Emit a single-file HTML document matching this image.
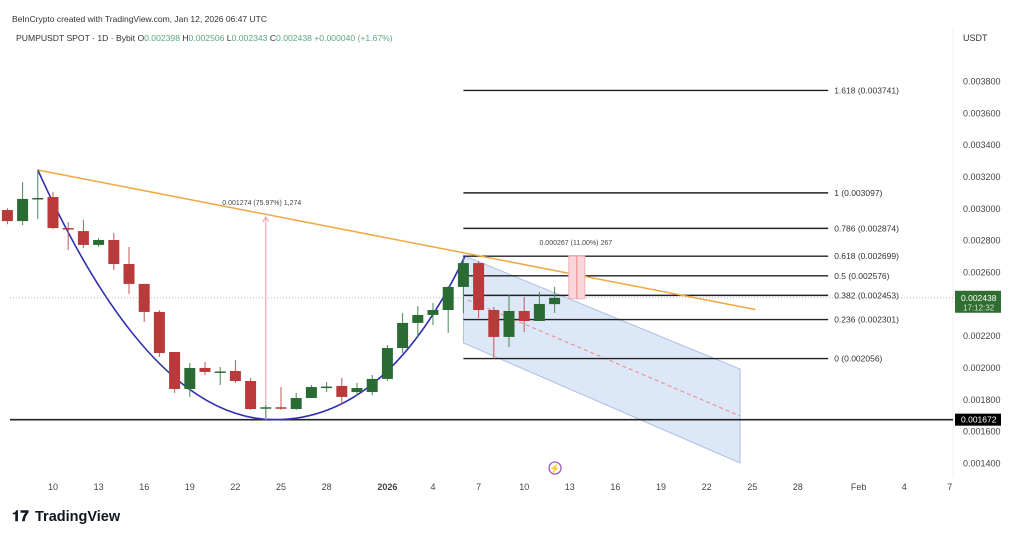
<!DOCTYPE html>
<html><head><meta charset="utf-8"><style>
body{margin:0;background:#fff;font-family:"Liberation Sans",sans-serif;}
svg text{font-family:"Liberation Sans",sans-serif;}
</style></head><body>
<svg id="c" width="1024" height="536" viewBox="0 0 1024 536" xmlns="http://www.w3.org/2000/svg">
<rect x="0" y="0" width="1024" height="536" fill="#fff"/>
<text x="12" y="22" font-size="8.5" fill="#333">BeInCrypto created with TradingView.com, Jan 12, 2026 06:47 UTC</text>
<text x="16" y="41" font-size="8.6" fill="#333">PUMPUSDT SPOT · 1D · Bybit  O<tspan fill="#5aa77e">0.002398</tspan>  H<tspan fill="#5aa77e">0.002506</tspan>  L<tspan fill="#5aa77e">0.002343</tspan>  C<tspan fill="#5aa77e">0.002438</tspan>  <tspan fill="#5aa77e">+0.000040 (+1.67%)</tspan></text>
<text x="963" y="41" font-size="9" fill="#333">USDT</text>
<line x1="953" y1="28" x2="953" y2="478" stroke="#f0f0f0"/>
<g id="yaxis"></g>
<g id="xaxis"></g>
<g id="draw"></g>
<g id="candles"></g>
<g id="tags"></g>
<g>
<text x="12" y="521" font-size="15" font-weight="bold" fill="#131722">𝟏𝟕</text>
<text x="35" y="521" font-size="14.5" font-weight="bold" fill="#131722">TradingView</text>
</g>
<g>
<circle cx="555" cy="468" r="6" fill="#fff" stroke="#9c5bc9" stroke-width="1.3"/>
<text x="555" y="471.5" font-size="9" text-anchor="middle" fill="#9c5bc9">⚡</text>
</g>
</svg>
<script>
const dates=[-3,-2,-1,0,1,2,3,4,5,6,7,8,9,10,11,12,13,14,15,16,17,18,19,20,21,22,23,24,25,26,27,28,29,30,31,32,33];
const opens=[0.002989,0.002920,0.003060,0.003071,0.002876,0.002857,0.002770,0.002801,0.002650,0.002525,0.002349,0.002097,0.001865,0.001997,0.001972,0.001978,0.001915,0.001745,0.001750,0.001739,0.001808,0.001877,0.001884,0.001846,0.001846,0.001928,0.002122,0.002280,0.002330,0.002361,0.002506,0.002656,0.002361,0.002192,0.002355,0.002292,0.002398];
const highs=[0.003000,0.003165,0.003241,0.003103,0.002914,0.002927,0.002814,0.002845,0.002757,0.002525,0.002361,0.002097,0.002028,0.002034,0.002003,0.002047,0.001934,0.001764,0.001877,0.001840,0.001890,0.001909,0.001934,0.001903,0.001953,0.002141,0.002342,0.002386,0.002405,0.002510,0.002699,0.002670,0.002380,0.002455,0.002443,0.002474,0.002506];
const lows=[0.002900,0.002895,0.002933,0.002870,0.002738,0.002750,0.002757,0.002612,0.002462,0.002286,0.002066,0.001840,0.001814,0.001953,0.001890,0.001903,0.001733,0.001683,0.001733,0.001733,0.001808,0.001846,0.001765,0.001821,0.001827,0.001915,0.002091,0.002185,0.002267,0.002217,0.002342,0.002311,0.002056,0.002129,0.002223,0.002292,0.002343];
const closes=[0.002920,0.003059,0.003065,0.002876,0.002870,0.002770,0.002801,0.002650,0.002525,0.002349,0.002091,0.001865,0.001997,0.001972,0.001975,0.001915,0.001739,0.001750,0.001745,0.001808,0.001877,0.001880,0.001815,0.001871,0.001928,0.002122,0.002280,0.002330,0.002361,0.002506,0.002656,0.002361,0.002192,0.002355,0.002292,0.002399,0.002438];
const yTicks=[0.0014,0.0016,0.0018,0.0020,0.0022,0.0024,0.0026,0.0028,0.0030,0.0032,0.0034,0.0036,0.0038];
const xTickDays=[0,3,6,9,12,15,18,22,25,28,31,34,37,40,43,46,49,53,56,59];
const xTickLabels=["10","13","16","19","22","25","28","2026","4","7","10","13","16","19","22","25","28","Feb","4","7"];
const fibLevels=["1.618","1","0.786","0.618","0.5","0.382","0.236","0"];
const fibPrices=[0.003741,0.003097,0.002874,0.002699,0.002576,0.002453,0.002301,0.002056];
const lastPrice=0.002438, supportPrice=0.001672;

const NS="http://www.w3.org/2000/svg";
const X=d=>53+d*15.2;
const Y=p=>81+(0.0038-p)/0.0002*31.83;
function mk(parent,tag,attrs,text){const e=document.createElementNS(NS,tag);for(const k in attrs)e.setAttribute(k,attrs[k]);if(text!==undefined)e.textContent=text;document.getElementById(parent).appendChild(e);return e;}

yTicks.forEach(p=>{const t=mk('yaxis','text',{x:963,y:Y(p)+3.5,'font-size':9,fill:'#444'},p.toFixed(6));

});
xTickDays.forEach((d,i)=>{const t=mk('xaxis','text',{x:X(d),y:490,'font-size':9,fill:'#444','text-anchor':'middle','font-weight':xTickLabels[i]==='2026'?'bold':'normal'},xTickLabels[i]);

});

let e;
e=mk('draw','line',{x1:10,x2:953,y1:Y(lastPrice),y2:Y(lastPrice),stroke:'#bbb','stroke-dasharray':'1 2'});


const c0=27,c1=45.2;
e=mk('draw','polygon',{points:`${X(c0)},${Y(0.002704)} ${X(c1)},${Y(0.001990)} ${X(c1)},${Y(0.001400)} ${X(c0)},${Y(0.002154)}`,fill:'#dce7f8',stroke:'#aebfe0','stroke-width':1});


e=mk('draw','line',{x1:X(27.3),y1:Y(0.002424),x2:X(c1),y2:Y(0.001695),stroke:'#e88',"stroke-dasharray":'4 3'});


e=mk('draw','line',{x1:10,x2:953,y1:Y(supportPrice),y2:Y(supportPrice),stroke:'#222','stroke-width':1.6});


fibPrices.forEach((p,i)=>{e=mk('draw','line',{x1:X(27),x2:X(51),y1:Y(p),y2:Y(p),stroke:'#222','stroke-width':1.4});


e=mk('draw','text',{x:X(51)+6,y:Y(p)+3,'font-size':8.5,fill:'#333'},fibLevels[i]+' ('+p.toFixed(6)+')');

});
e=mk('draw','line',{x1:X(-1),y1:Y(0.003241),x2:X(46.2),y2:Y(0.002364),stroke:'#f0a845','stroke-width':1.5});


e=mk('draw','path',{d:`M${X(-1)},${Y(0.003241)} Q${X(6.4)},${Y(supportPrice)} ${X(14.6)},${Y(supportPrice)} Q${X(22)},${Y(supportPrice)} ${X(27.1)},${Y(0.002699)}`,fill:'none',stroke:'#2e2fb0','stroke-width':1.6});


e=mk('draw','line',{x1:X(14),x2:X(14),y1:Y(supportPrice),y2:Y(0.002946)+1,stroke:'#e89aa6','stroke-width':1});


e=mk('draw','path',{d:`M${X(14)-3},${Y(0.002946)+5} L${X(14)},${Y(0.002946)} L${X(14)+3},${Y(0.002946)+5}`,fill:'none',stroke:'#e89aa6'});


e=mk('draw','text',{x:X(14)-4,y:205,'font-size':7,fill:'#444','text-anchor':'middle'},'0.001274 (75.97%) 1,274');


e=mk('draw','rect',{x:X(34)-1,y:Y(0.002699),width:16,height:Y(0.002432)-Y(0.002699),fill:'#f9d6da',stroke:'#f0b0b8'});


e=mk('draw','line',{x1:X(34)+7,x2:X(34)+7,y1:Y(0.002432),y2:Y(0.002699),stroke:'#e88'});


e=mk('draw','text',{x:X(34)+6,y:245,'font-size':7,fill:'#444','text-anchor':'middle'},'0.000267 (11.00%) 267');



dates.forEach((d,i)=>{const up=closes[i]>=opens[i];const col=up?'#2a6b34':'#b83a3a';const x=X(d);
let w=mk('candles','line',{x1:x,x2:x,y1:Y(highs[i]),y2:Y(lows[i]),stroke:up?'#4b8a55':'#c05858','stroke-width':1});


const top=Y(Math.max(opens[i],closes[i])),bot=Y(Math.min(opens[i],closes[i]));
let b=mk('candles','rect',{x:x-5.5,y:top,width:11,height:Math.max(1.5,bot-top),fill:col});

});

e=mk('tags','rect',{x:955,y:Y(lastPrice)-7,width:46,height:22,fill:'#2f6e30'});


e=mk('tags','text',{x:961,y:Y(lastPrice)+3,'font-size':8.5,fill:'#fff'},lastPrice.toFixed(6));


e=mk('tags','text',{x:963,y:Y(lastPrice)+12.5,'font-size':8,fill:'#cfe5cf'},'17:12:32');


e=mk('tags','rect',{x:955,y:Y(supportPrice)-6,width:46,height:12,fill:'#000'});


e=mk('tags','text',{x:961,y:Y(supportPrice)+3,'font-size':8.5,fill:'#fff'},supportPrice.toFixed(6));


</script>
</body></html>
